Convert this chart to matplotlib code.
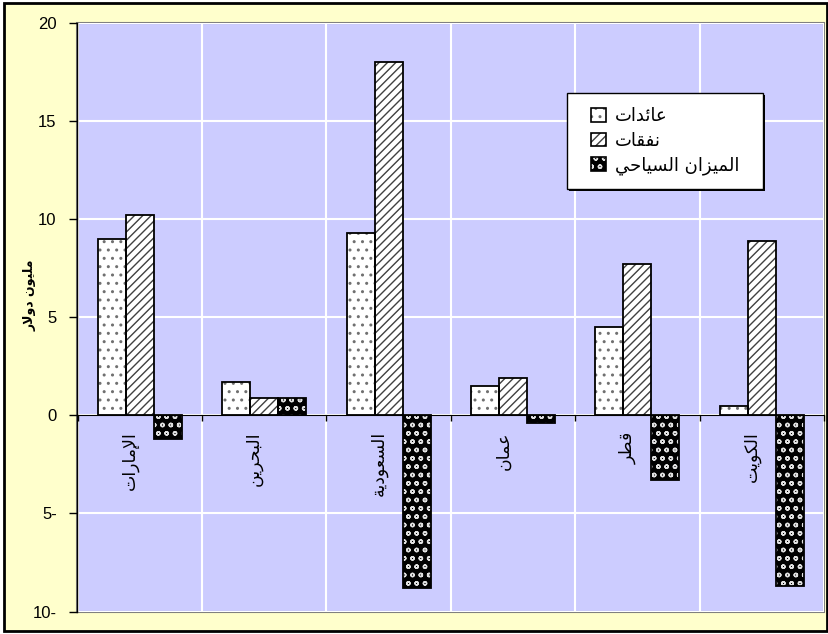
import unicodedata
import matplotlib
matplotlib.use("Agg")
import matplotlib.pyplot as plt
from matplotlib.patches import Rectangle, Patch
from matplotlib.legend_handler import HandlerTuple

# ---- data -------------------------------------------------------------
countries = ["الإمارات", "البحرين", "السعودية", "عمان", "قطر", "الكويت"]
receipts = [9.0, 1.7, 9.3, 1.5, 4.5, 0.5]        # عائدات
spending = [10.2, 0.9, 18.0, 1.9, 7.7, 8.9]      # نفقات
balance = [-1.2, 0.9, -8.8, -0.4, -3.3, -8.7]    # الميزان السياحي
series_names = ["عائدات", "نفقات", "الميزان السياحي"]
y_label = "مليون دولار"
y_ticks = [-10, -5, 0, 5, 10, 15, 20]
y_tick_labels = ["10-", "5-", "0", "5", "10", "15", "20"]


# ---- minimal Arabic shaping (contextual forms + lam-alef, RTL order) ----
def _form(ch, form):
    try:
        return unicodedata.lookup(unicodedata.name(ch) + " " + form + " FORM")
    except (KeyError, ValueError):
        return None


def _dual(ch):
    return _form(ch, "MEDIAL") is not None


def _arabic(ch):
    return _form(ch, "ISOLATED") is not None or _form(ch, "FINAL") is not None


def shape(text):
    out = []
    i, n = 0, len(text)
    alefs = "\u0622\u0623\u0625\u0627"
    while i < n:
        ch = text[i]
        prev_joins = i > 0 and _dual(text[i - 1])
        if ch == "\u0644" and i + 1 < n and text[i + 1] in alefs:
            tail = unicodedata.name(text[i + 1])[len("ARABIC LETTER "):]
            form = "FINAL" if prev_joins else "ISOLATED"
            out.append(unicodedata.lookup(
                "ARABIC LIGATURE LAM WITH " + tail + " " + form + " FORM"))
            i += 2
            continue
        if not _arabic(ch):
            out.append(ch)
            i += 1
            continue
        next_joins = _dual(ch) and i + 1 < n and _arabic(text[i + 1])
        if prev_joins and next_joins:
            g = _form(ch, "MEDIAL")
        elif prev_joins:
            g = _form(ch, "FINAL")
        elif next_joins:
            g = _form(ch, "INITIAL")
        else:
            g = _form(ch, "ISOLATED")
        out.append(g or ch)
        i += 1
    return "".join(reversed(out))


# ---- figure -----------------------------------------------------------
W, H = 829, 634
fig = plt.figure(figsize=(W / 100, H / 100), dpi=100, facecolor="white")
fig.add_artist(Rectangle((4 / W, 3 / H), 823 / W, 628 / H, transform=fig.transFigure,
                         facecolor="#FFFFCC", edgecolor="black", linewidth=2, zorder=-5))

ax_l, ax_r, ax_t, ax_b = 77.5, 824, 23, 611.5
ax = fig.add_axes([ax_l / W, 1 - ax_b / H, (ax_r - ax_l) / W, (ax_b - ax_t) / H])
ax.set_facecolor("#CCCCFF")

x = list(range(len(countries)))
bw = 0.225
plt.rcParams["hatch.linewidth"] = 1.0

styles = [
    dict(face="white", hatch="..", hcolor="#707070"),
    dict(face="white", hatch="////", hcolor="#404040"),
    dict(face="black", hatch="oo", hcolor="#E0E0E0"),
]
handles = []
for k, (vals, st) in enumerate(zip([receipts, spending, balance], styles)):
    pos = [xi + (k - 1) * bw for xi in x]
    ax.bar(pos, vals, bw, color=st["face"], edgecolor=st["hcolor"],
           hatch=st["hatch"], linewidth=0, zorder=3)
    ax.bar(pos, vals, bw, fill=False, edgecolor="black", linewidth=1.3, zorder=4)
    handles.append((Patch(facecolor=st["face"], edgecolor=st["hcolor"], hatch=st["hatch"], linewidth=0),
                    Patch(fill=False, edgecolor="black", linewidth=1.2)))

ax.set_xlim(-0.5, len(countries) - 0.5)
ax.set_ylim(-10, 20)

# y axis
ax.set_yticks(y_ticks)
ax.set_yticklabels(y_tick_labels, fontfamily="Liberation Sans", fontsize=12)
ax.tick_params(axis="y", direction="out", length=6, width=1, pad=9, colors="black")
ax.yaxis.grid(True, color="white", linewidth=1.5, zorder=1)

# x axis on the zero line, ticks on category boundaries
bounds = [i - 0.5 for i in range(len(countries) + 1)]
ax.set_xticks(bounds)
ax.set_xticklabels([""] * len(bounds))
ax.tick_params(axis="x", direction="out", length=4, width=1)
ax.xaxis.grid(True, color="white", linewidth=1.5, zorder=1)
ax.set_axisbelow(True)

for s in ["top", "right"]:
    ax.spines[s].set_visible(False)
ax.spines["bottom"].set_position(("data", 0))
ax.spines["bottom"].set_zorder(5)
ax.spines["left"].set_linewidth(1)
ax.add_patch(Rectangle((0, 0), 1, 1, transform=ax.transAxes, fill=False,
                       edgecolor="#808080", linewidth=1.5, zorder=0.5, clip_on=False))

for xi, name in zip(x, countries):
    ax.annotate(shape(name), xy=(xi, 0), xytext=(-10, -16), textcoords="offset pixels",
                rotation=90, ha="center", va="top", fontsize=12.5,
                fontfamily="DejaVu Sans", zorder=6)

fig.text(30 / W, 1 - 295 / H, shape(y_label), rotation=90, ha="center", va="center",
         fontsize=9, fontweight="bold", fontfamily="DejaVu Sans")

# legend with a drop-shadowed frame
lx0, lx1, ly0, ly1 = 567, 763, 93, 189
fig.add_artist(Rectangle(((lx0 + 2) / W, 1 - (ly1 + 2) / H), (lx1 - lx0) / W, (ly1 - ly0) / H,
                         transform=fig.transFigure, facecolor="black", edgecolor="none", zorder=4))
fig.add_artist(Rectangle((lx0 / W, 1 - ly1 / H), (lx1 - lx0) / W, (ly1 - ly0) / H,
                         transform=fig.transFigure, facecolor="white", edgecolor="black",
                         linewidth=1, zorder=4.5))
fig.legend(handles, [shape(s) for s in series_names],
           handler_map={tuple: HandlerTuple(ndivide=1, pad=0)},
           loc="center", bbox_to_anchor=((lx0 + lx1) / 2 / W, 1 - (ly0 + ly1) / 2 / H),
           frameon=False, prop={"family": "DejaVu Sans", "size": 13},
           handlelength=0.8, handleheight=0.8, handletextpad=0.5, labelspacing=0.35)

fig.savefig("out.png", dpi=100)
